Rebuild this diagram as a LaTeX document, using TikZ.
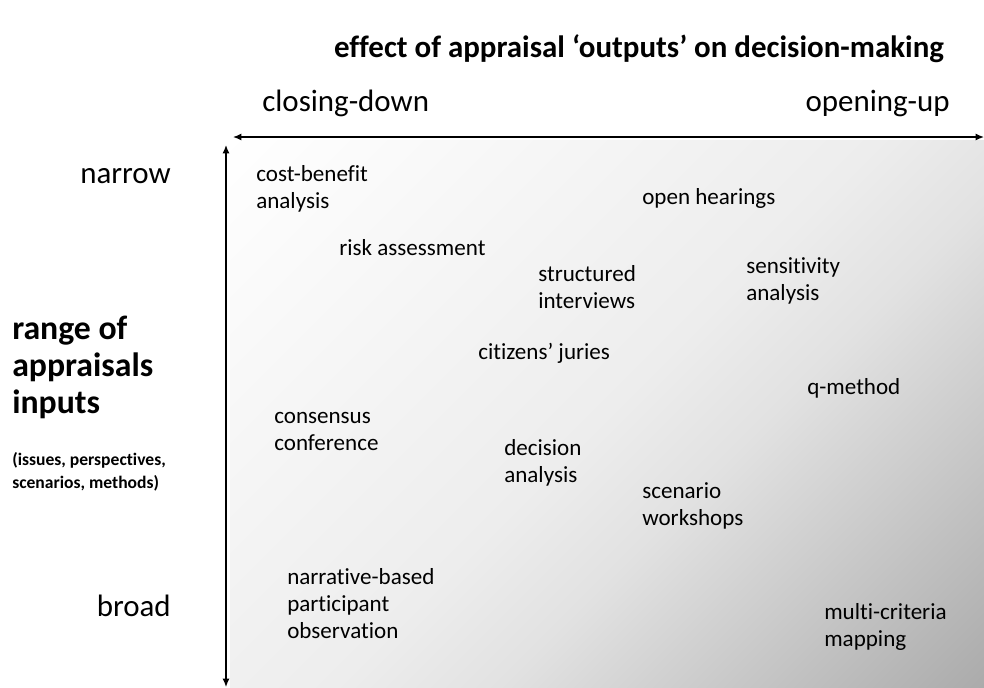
\documentclass[tikz,border=0pt]{standalone}
\usepackage{fontspec}
\setmainfont[Ligatures=NoCommon]{Carlito}
\usepackage{tikz}
\usetikzlibrary{arrows.meta, positioning}

\definecolor{shadegray}{HTML}{AAAAAA}
\definecolor{panelmid}{HTML}{E2E2E2}
\definecolor{panellight}{HTML}{EDEDED}

% diagonal fill of the panel (0bp = bottom right, 100bp = top left)
\pgfdeclareverticalshading{panelshade}{100bp}{color(0bp)=(shadegray); color(14bp)=(shadegray); color(41bp)=(panelmid); color(50bp)=(panellight); color(86bp)=(white); color(100bp)=(white)}

\tikzset{
    method/.style={anchor=base west, align=left, inner sep=0pt, font=\fontsize{16.4}{19}\selectfont},
    axislabel/.style={inner sep=0pt, font=\fontsize{22}{26}\selectfont},
    axisline/.style={line width=0.9pt, {Latex[length=6pt,width=5pt]}-{Latex[length=6pt,width=5pt]}}
}

\begin{document}
\begin{tikzpicture}[x=0.025cm, y=-0.025cm]
    % canvas in pixel units of the reference (984 x 687)
    \useasboundingbox (0,0) rectangle (984,687);

    % shaded field of appraisal methods
    \shade[shading=panelshade, shading angle=45] (230,140) rectangle (984,687);

    % Title
    \node[anchor=base, inner sep=0pt, font=\fontsize{22}{26}\selectfont\bfseries] (title) at (639,57) {effect of appraisal ‘outputs’ on decision-making};

    % Axes - outputs (horizontal) and inputs (vertical)
    \coordinate (outL) at (233,137);
    \coordinate (outR) at (984,137);
    \coordinate (inT) at (226,145);
    \coordinate (inB) at (226,687);
    \draw[axisline] (outL) -- (outR);
    \draw[axisline] (inT) -- (inB);

    % Axis end labels
    \node[axislabel, anchor=base west] (closing) at (262,111) {closing-down};
    \node[axislabel, anchor=base east] (opening) at (950,111) {opening-up};
    \node[axislabel, anchor=base east] (narrow) at (171,183) {narrow};
    \node[axislabel, anchor=base east] (broad) at (171,616) {broad};

    % Inputs label (base = last line)
    \node[anchor=base west, align=left, inner sep=0pt, font=\fontsize{24}{26.3}\selectfont\bfseries] (inputs) at (12,413) {range of\\appraisals\\inputs};
    \node[anchor=base west, align=left, inner sep=0pt, font=\fontsize{12.5}{16}\selectfont\bfseries] (inputsub) at (12,488) {(issues, perspectives,\\scenarios, methods)};

    % Appraisal methods (base = last line)
    \node[method] (cba) at (256,208) {cost-benefit\\analysis};
    \node[method] (hearings) at (642,204) {open hearings};
    \node[method] (risk) at (339,255) {risk assessment};
    \node[method] (interviews) at (538,308) {structured\\interviews};
    \node[method] (sensitivity) at (746,300) {sensitivity\\analysis};
    \node[method] (juries) at (478,359) {citizens’ juries};
    \node[method] (qmethod) at (807,394) {q-method};
    \node[method] (consensus) at (274,450) {consensus\\conference};
    \node[method] (decision) at (504,482) {decision\\analysis};
    \node[method] (scenario) at (642,525) {scenario\\workshops};
    \node[method] (narrative) at (287,638) {narrative-based\\participant\\observation};
    \node[method] (mcm) at (824,646) {multi-criteria\\mapping};
\end{tikzpicture}
\end{document}
